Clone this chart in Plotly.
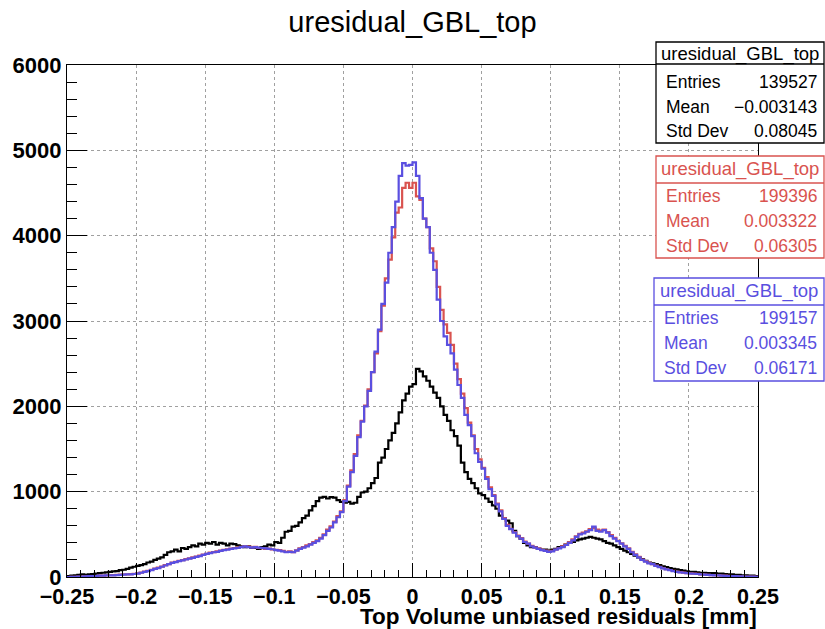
import plotly.graph_objects as go

# ---------------- data ----------------
x_min, x_max, n_bins = -0.25, 0.25, 200

black_counts = [
    10, 15, 20, 25, 30, 25, 30, 35, 40, 45,
    50, 55, 60, 65, 70, 80, 85, 95, 110, 120,
    130, 140, 150, 170, 180, 200, 215, 230, 260, 290,
    300, 320, 300, 340, 330, 350, 370, 360, 390, 380,
    400, 390, 410, 380, 400, 390, 370, 390, 385, 370,
    360, 350, 360, 340, 345, 330, 350, 360, 380, 370,
    410, 400, 460, 530, 540, 590, 600, 640, 690, 720,
    780, 830, 890, 930, 940, 920, 935, 930, 900, 880,
    870, 880, 860, 870, 940, 990, 1000, 1040, 1100, 1160,
    1340, 1400, 1500, 1600, 1690, 1800, 1930, 2070, 2150, 2230,
    2260, 2440, 2410, 2350, 2300, 2230, 2160, 2100, 2000, 1900,
    1830, 1720, 1650, 1540, 1340, 1230, 1150, 1100, 1040, 980,
    960, 920, 880, 840, 800, 720, 690, 660, 630, 540,
    480, 450, 400, 370, 350, 350, 330, 320, 320, 310,
    320, 330, 350, 360, 380, 400, 410, 430, 440, 450,
    460, 470, 460, 450, 440, 420, 400, 390, 370, 350,
    330, 310, 290, 270, 250, 230, 210, 190, 170, 160,
    150, 140, 125, 115, 105, 95, 90, 80, 75, 65,
    60, 60, 55, 50, 50, 45, 45, 45, 40, 40,
    35, 30, 30, 25, 25, 20, 20, 15, 15, 10,
]

red_counts = [
    0, 3, 2, 6, 5, 9, 10, 12, 12, 16,
    17, 18, 22, 21, 24, 27, 30, 31, 33, 38,
    42, 52, 63, 72, 85, 98, 110, 122, 138, 152,
    168, 178, 190, 198, 210, 218, 230, 238, 250, 262,
    272, 285, 292, 300, 308, 318, 325, 332, 340, 345,
    352, 358, 355, 348, 352, 340, 338, 330, 332, 322,
    318, 315, 305, 295, 300, 292, 312, 335, 350, 370,
    385, 410, 430, 460, 500, 555, 595, 650, 715, 770,
    900, 1070, 1250, 1440, 1660, 1830, 2010, 2200, 2400, 2620,
    2880, 3180, 3500, 3720, 3980, 4270, 4330, 4560, 4620, 4560,
    4620, 4460, 4420, 4200, 4100, 3850, 3700, 3400, 3130, 2960,
    2860, 2720, 2500, 2320, 2150, 1980, 1810, 1660, 1500, 1380,
    1280, 1170, 1050, 960, 860, 780, 690, 610, 565, 525,
    485, 455, 415, 392, 365, 348, 335, 318, 308, 300,
    305, 322, 340, 358, 380, 408, 440, 475, 505, 520,
    535, 560, 575, 555, 545, 555, 525, 490, 460, 425,
    395, 365, 335, 295, 265, 235, 205, 185, 165, 152,
    135, 118, 104, 92, 82, 72, 63, 57, 52, 46,
    42, 39, 36, 31, 29, 26, 23, 21, 19, 16,
    15, 13, 11, 10, 9, 7, 6, 5, 4, 3,
]

blue_counts = [
    0, 2, 3, 5, 5, 8, 10, 10, 12, 15,
    15, 18, 20, 20, 22, 25, 28, 30, 30, 35,
    40, 50, 60, 70, 80, 95, 105, 120, 135, 150,
    165, 175, 185, 195, 205, 215, 225, 235, 245, 260,
    270, 280, 290, 295, 305, 315, 320, 330, 335, 340,
    350, 360, 350, 345, 350, 345, 340, 335, 330, 325,
    315, 310, 300, 290, 295, 290, 310, 330, 345, 360,
    380, 400, 420, 450, 490, 540, 580, 640, 700, 760,
    890, 1060, 1230, 1420, 1640, 1820, 2000, 2180, 2400, 2640,
    2900, 3200, 3450, 3800, 4100, 4400, 4700, 4850, 4820, 4830,
    4860, 4700, 4440, 4200, 4100, 3800, 3600, 3250, 3000, 2820,
    2720, 2620, 2430, 2250, 2100, 1900, 1780, 1650, 1450, 1350,
    1270, 1150, 1030, 950, 850, 770, 680, 600, 560, 520,
    480, 450, 410, 390, 360, 345, 330, 315, 305, 295,
    300, 320, 335, 350, 375, 400, 430, 470, 500, 510,
    530, 550, 590, 540, 530, 550, 520, 480, 450, 420,
    390, 360, 330, 290, 260, 230, 200, 180, 160, 150,
    130, 115, 100, 90, 80, 70, 60, 55, 50, 45,
    40, 38, 35, 30, 28, 25, 22, 20, 18, 15,
    14, 12, 10, 10, 8, 7, 6, 5, 4, 2,
]

x_tick_vals = [-0.25, -0.2, -0.15, -0.1, -0.05, 0.0, 0.05, 0.1, 0.15, 0.2, 0.25]
x_tick_text = ["\u22120.25", "\u22120.2", "\u22120.15", "\u22120.1", "\u22120.05", "0",
               "0.05", "0.1", "0.15", "0.2", "0.25"]
y_tick_vals = [0, 1000, 2000, 3000, 4000, 5000, 6000]
y_tick_text = ["0", "1000", "2000", "3000", "4000", "5000", "6000"]

hist_title = "uresidual_GBL_top"
x_title = "Top Volume unbiased residuals [mm]"
stat_labels = ["Entries", "Mean", "Std Dev"]
black_stats = ["139527", "\u22120.003143", "0.08045"]
red_stats = ["199396", "0.003322", "0.06305"]
blue_stats = ["199157", "0.003345", "0.06171"]

BLACK = "#000000"
RED = "#d9534f"
BLUE = "#5a4fe0"

# ---------------- figure ----------------
W, H = 825, 629
L, R, T, B = 67, 758, 65, 577  # plot area in pixels
bw = (x_max - x_min) / n_bins
edges = [x_min + i * bw for i in range(n_bins + 1)]

fig = go.Figure()
for counts, col in [(black_counts, BLACK), (red_counts, RED), (blue_counts, BLUE)]:
    xs = edges[:]
    ys = counts + [counts[-1]]
    fig.add_trace(go.Scatter(x=xs, y=ys, mode="lines", line=dict(color=col, width=2.2, shape="hv"),
                             hoverinfo="skip", showlegend=False))

font_main = "Liberation Sans, Arial, Helvetica, sans-serif"

def px2paper(px, py):
    return (px - L) / (R - L), (B - py) / (B - T)

def stat_box(x0, y0, y_sep, y1, color, values, rows_y, title_y):
    x1 = 824
    a0, b0 = px2paper(x0, y0)
    a1, b1 = px2paper(x1, y1)
    fig.add_shape(type="rect", xref="paper", yref="paper", x0=a0, x1=a1, y0=b1, y1=b0,
                  line=dict(color=color, width=1.3), fillcolor="white", layer="above")
    _, bs = px2paper(0, y_sep)
    fig.add_shape(type="line", xref="paper", yref="paper", x0=a0, x1=a1, y0=bs, y1=bs,
                  line=dict(color=color, width=1.3), layer="above")
    xc, yt = px2paper((x0 + x1) / 2, title_y)
    fig.add_annotation(xref="paper", yref="paper", x=xc, y=yt, text=hist_title, showarrow=False,
                       xanchor="center", yanchor="middle", font=dict(family=font_main, size=18.5, color=color))
    for lab, val, ry in zip(stat_labels, values, rows_y):
        xl, yr = px2paper(x0 + 8, ry)
        xr, _ = px2paper(x1 - 5, ry)
        fig.add_annotation(xref="paper", yref="paper", x=xl, y=yr, text=lab, showarrow=False,
                           xanchor="left", yanchor="middle", font=dict(family=font_main, size=17.5, color=color))
        fig.add_annotation(xref="paper", yref="paper", x=xr, y=yr, text=val, showarrow=False,
                           xanchor="right", yanchor="middle", font=dict(family=font_main, size=17.5, color=color))

stat_box(656, 42, 64, 143, BLACK, black_stats, [82, 107, 131], 54)
stat_box(656, 156, 183, 258, RED, red_stats, [196, 221, 246], 169)
stat_box(654, 278, 305, 381, BLUE, blue_stats, [318, 343, 368], 291)

# x-axis title, right-aligned to the frame like ROOT
xa, ya = px2paper(R, 616)
fig.add_annotation(xref="paper", yref="paper", x=xa, y=ya, text="<b>" + x_title + "</b>",
                   showarrow=False, xanchor="right", yanchor="middle", borderpad=0,
                   font=dict(family=font_main, size=22.5, color="black"))

fig.update_layout(
    width=W, height=H,
    margin=dict(l=L, r=W - R, t=T, b=H - B, pad=0),
    paper_bgcolor="white", plot_bgcolor="white",
    title=dict(text=hist_title, x=0.5, xanchor="center", y=1 - 22 / H, yanchor="middle",
               font=dict(family=font_main, size=29, color="black")),
    showlegend=False,
)

fig.update_xaxes(
    range=[x_min, x_max], tickmode="array", tickvals=x_tick_vals, ticktext=x_tick_text,
    ticks="inside", ticklen=14, tickcolor="black", tickwidth=1,
    minor=dict(ticks="inside", ticklen=7, dtick=0.01, tick0=-0.25, tickcolor="black", showgrid=False),
    showgrid=True, gridcolor="#a0a0a0", griddash="dot", gridwidth=1,
    showline=True, linecolor="black", linewidth=1.3, mirror=True,
    zeroline=False, automargin=False, tickangle=0,
    tickfont=dict(family=font_main, size=21.5, color="black", weight="bold"),
)
fig.update_yaxes(
    range=[0, 6000], tickmode="array", tickvals=y_tick_vals, ticktext=y_tick_text,
    ticks="inside", ticklen=20, tickcolor="black", tickwidth=1,
    minor=dict(ticks="inside", ticklen=10, dtick=200, tick0=0, tickcolor="black", showgrid=False),
    showgrid=True, gridcolor="#a0a0a0", griddash="dot", gridwidth=1,
    showline=True, linecolor="black", linewidth=1.3, mirror=True,
    zeroline=False, automargin=False,
    tickfont=dict(family=font_main, size=22, color="black", weight="bold"),
)

fig.write_html("out.html")
